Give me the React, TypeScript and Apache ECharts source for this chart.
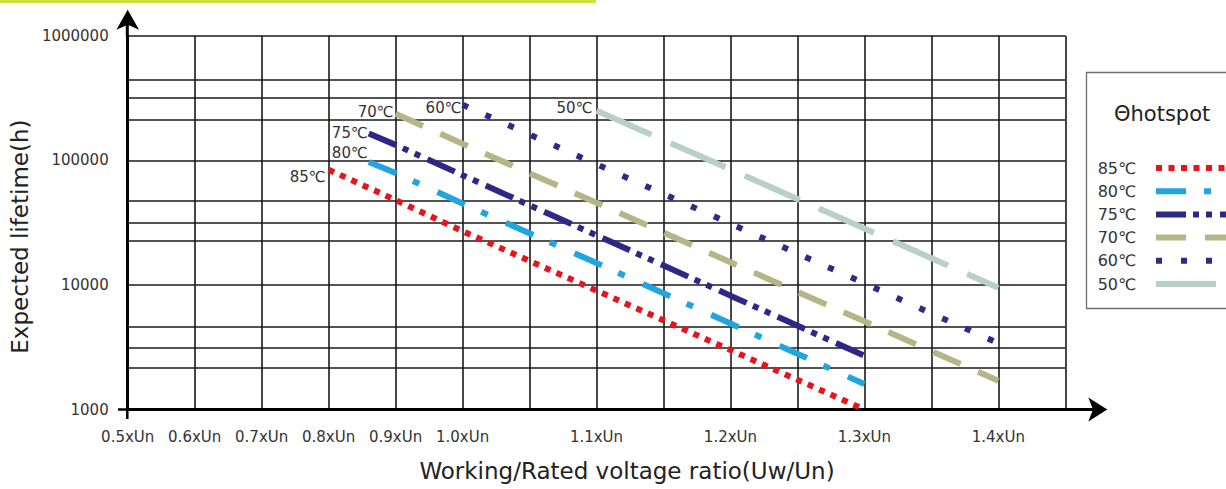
import React, { useEffect, useRef } from 'react';
import * as echarts from 'echarts';

// ---------- data ----------
const xTickRatios = [0.5, 0.6, 0.7, 0.8, 0.9, 1.0, 1.1, 1.2, 1.3, 1.4];
const xTickLabels = ['0.5xUn', '0.6xUn', '0.7xUn', '0.8xUn', '0.9xUn', '1.0xUn', '1.1xUn', '1.2xUn', '1.3xUn', '1.4xUn'];
const yTickValues = [1000, 10000, 100000, 1000000];
const minorGridHours = [2180, 3130, 4620, 22600, 31600, 47400, 210000, 318000, 441000];

const seriesNames = ['85℃', '80℃', '75℃', '70℃', '60℃', '50℃'];

const ratio85 = [0.8, 0.9, 1.0, 1.1, 1.2, 1.3];
const hours85 = [84000, 48000, 27000, 9000, 3000, 1000];

const ratio80 = [0.86, 0.9, 1.0, 1.1, 1.2, 1.3];
const hours80 = [97000, 79000, 45000, 15000, 4900, 1600];

const ratio75 = [0.86, 0.9, 1.0, 1.1, 1.2, 1.3];
const hours75 = [164000, 133000, 76000, 25000, 8200, 2700];

const ratio70 = [0.9, 1.0, 1.1, 1.2, 1.3, 1.4];
const hours70 = [236000, 136000, 45600, 15200, 5100, 1700];

const ratio60 = [1.0, 1.1, 1.2, 1.3, 1.4];
const hours60 = [279000, 93000, 31000, 10300, 3400];

const ratio50 = [1.1, 1.2, 1.3, 1.4];
const hours50 = [250000, 84500, 28300, 9500];

const seriesRatios = [ratio85, ratio80, ratio75, ratio70, ratio60, ratio50];
const seriesHours = [hours85, hours80, hours75, hours70, hours60, hours50];

// ---------- styles ----------
const FONT = 'DejaVu Sans';
const seriesStyles = [
  { color: '#e8141c', dash: [6, 6.5], dist: 3, off: [0, 7] },
  { color: '#22a5df', dash: [30, 18, 7, 20], dist: 1, off: [0, -9] },
  { color: '#2d2787', dash: [30, 7, 6, 7, 6, 8], dist: 1, off: [0, -1] },
  { color: '#b6b588', dash: [30, 19], dist: 2, off: [0, -2] },
  { color: '#2e2a8a', dash: [6, 19], dist: 1, off: [0, 3] },
  { color: '#b8d0c6', dash: [60, 21], dist: 4, off: [0, -3] },
];

// the x axis is drawn with one grid cell per 0.1 up to 1.0xUn and two cells per 0.1 above it
const pos = (r: number) => (r <= 1.0 + 1e-9 ? (r - 0.5) * 10 : 5 + (r - 1.0) * 20);

function buildOption() {
  const lineSeries = seriesNames.map((name, i) => {
    const st = seriesStyles[i];
    const ratios = seriesRatios[i];
    const hours = seriesHours[i];
    return {
      type: 'line',
      name,
      z: 3,
      symbol: 'none',
      silent: true,
      data: ratios.map((r, j) => [pos(r), hours[j]]),
      lineStyle: { color: st.color, width: 6, type: st.dash, cap: 'butt' },
      itemStyle: { color: st.color },
      markPoint: {
        silent: true,
        symbol: 'circle',
        symbolSize: 0,
        itemStyle: { color: 'transparent' },
        label: {
          show: true,
          position: 'left',
          distance: st.dist,
          offset: st.off,
          formatter: name,
          fontFamily: FONT,
          fontSize: 15,
          color: '#333',
        },
        data: [{ coord: [pos(ratios[0]), hours[0]] }],
      },
    };
  });

  const gridLine = { color: '#1a1a1a', width: 1.6 };

  return {
    animation: false,
    backgroundColor: '#fff',
    textStyle: { fontFamily: FONT },
    title: {
      text: 'Θhotspot',
      left: 1109,
      top: 98,
      textStyle: { fontFamily: FONT, fontSize: 21, fontWeight: 'normal', color: '#222' },
    },
    grid: { left: 127.3, top: 35.7, width: 938, height: 373.8 },
    xAxis: {
      type: 'value',
      min: 0,
      max: 14,
      interval: 1,
      name: 'Working/Rated voltage ratio(Uw/Un)',
      nameLocation: 'middle',
      nameGap: 50,
      nameTextStyle: { fontFamily: FONT, fontSize: 23, color: '#222', padding: [0, 0, 0, 61] },
      axisLine: {
        show: true,
        onZero: false,
        symbol: ['none', 'arrow'],
        symbolSize: [18, 19],
        symbolOffset: [0, 42],
        lineStyle: { color: '#000', width: 3 },
      },
      axisTick: { show: false },
      axisLabel: {
        margin: 20,
        fontFamily: FONT,
        fontSize: 15,
        color: '#333',
        showMinLabel: true,
        showMaxLabel: true,
        hideOverlap: false,
        formatter: (v: number) => {
          const i = xTickRatios.findIndex((r) => Math.abs(pos(r) - v) < 1e-6);
          return i >= 0 ? xTickLabels[i] : '';
        },
      },
      splitLine: { show: true, lineStyle: gridLine },
    },
    yAxis: {
      type: 'log',
      logBase: 10,
      min: yTickValues[0],
      max: yTickValues[yTickValues.length - 1],
      name: 'Expected lifetime(h)',
      nameLocation: 'middle',
      nameGap: 92,
      nameTextStyle: { fontFamily: FONT, fontSize: 23, color: '#222', padding: [0, 28, 0, 0] },
      axisLine: {
        show: true,
        onZero: false,
        symbol: ['none', 'arrow'],
        symbolSize: [17, 20],
        symbolOffset: [0, 26],
        lineStyle: { color: '#000', width: 3 },
      },
      axisTick: { show: false },
      axisLabel: {
        margin: 19,
        fontFamily: FONT,
        fontSize: 15,
        color: '#333',
        showMinLabel: true,
        showMaxLabel: true,
        formatter: (v: number) => String(Math.round(v)),
      },
      splitLine: { show: true, lineStyle: gridLine },
    },
    legend: {
      data: seriesNames,
      orient: 'vertical',
      left: 1080,
      top: 155,
      align: 'right',
      itemWidth: 100,
      itemHeight: 14,
      itemGap: 7.2,
      selectedMode: false,
      textStyle: { fontFamily: FONT, fontSize: 16, color: '#333', width: 51, lineHeight: 14, padding: [0, 15, 0, 0] },
      lineStyle: { width: 6 },
      itemStyle: { color: 'transparent', borderWidth: 0, opacity: 0 },
    },
    graphic: [
      { type: 'rect', shape: { x: 0, y: 0, width: 596, height: 3 }, style: { fill: '#cde33b' }, z: 10 },
      {
        type: 'rect',
        shape: { x: 1086.5, y: 72.5, width: 220, height: 236 },
        style: { fill: '#fff', stroke: '#6e6e6e', lineWidth: 1.3 },
        z: 0,
      },
      { type: 'line', shape: { x1: 127.3, y1: 16, x2: 127.3, y2: 37 }, style: { stroke: '#000', lineWidth: 3 }, z: 10 },
      { type: 'line', shape: { x1: 1064, y1: 409.5, x2: 1098, y2: 409.5 }, style: { stroke: '#000', lineWidth: 3 }, z: 10 },
      { type: 'line', shape: { x1: 118, y1: 409.5, x2: 128, y2: 409.5 }, style: { stroke: '#000', lineWidth: 2.5 }, z: 10 },
      { type: 'line', shape: { x1: 127.3, y1: 409.5, x2: 127.3, y2: 419 }, style: { stroke: '#000', lineWidth: 2.5 }, z: 10 },
    ],
    series: [
      {
        type: 'line',
        name: 'minor-grid',
        data: [],
        silent: true,
        z: 1,
        markLine: {
          silent: true,
          z: 1,
          symbol: ['none', 'none'],
          label: { show: false },
          emphasis: { disabled: true },
          lineStyle: { color: '#1a1a1a', width: 1.6, type: 'solid' },
          data: minorGridHours.map((v) => ({ yAxis: v })),
        },
      },
      ...lineSeries,
    ],
  };
}

export default function App() {
  const ref = useRef<HTMLDivElement>(null);
  useEffect(() => {
    const chart = echarts.init(ref.current as HTMLDivElement, null, { renderer: 'svg' });
    chart.setOption(buildOption() as any);
    return () => chart.dispose();
  }, []);
  return (
    <div
      ref={ref}
      style={{ position: 'fixed', left: 0, top: 0, width: '1226px', height: '489px', background: '#fff' }}
    />
  );
}
